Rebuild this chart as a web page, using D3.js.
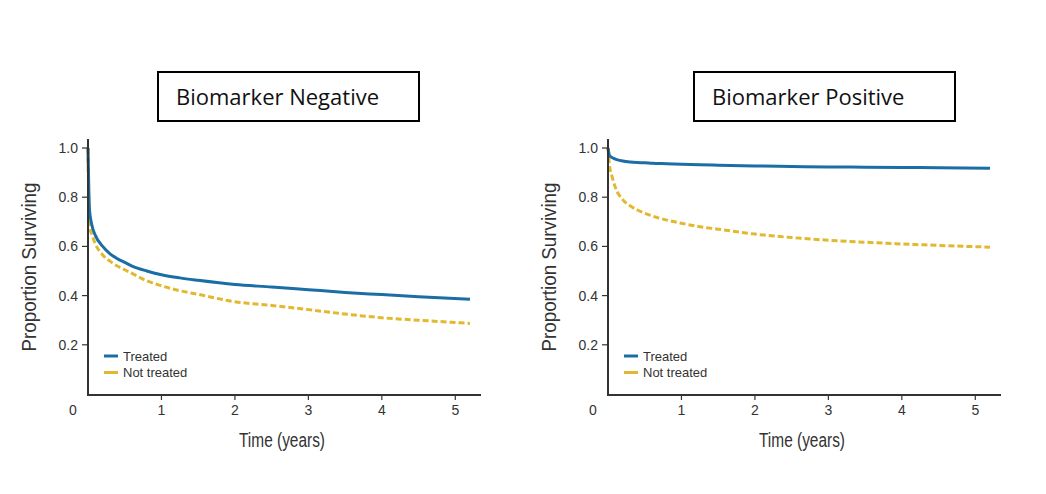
<!DOCTYPE html>
<html>
<head>
    <title>Survival by Biomarker</title>
    <script src="https://d3js.org/d3.v7.min.js"></script>
    <style>
        body, html {
            margin: 0;
            padding: 0;
            background: #fff;
            overflow: hidden;
        }
        .tick-label {
            font-family: "Liberation Sans", Arial, sans-serif;
            font-size: 14px;
            fill: #333;
        }
        .axis-title {
            font-family: "Liberation Sans Narrow", "Liberation Sans", Arial, sans-serif;
            font-size: 20px;
            fill: #333;
        }
        .legend-text {
            font-family: "Liberation Sans", Arial, sans-serif;
            font-size: 13px;
            fill: #333;
        }
        .panel-title {
            font-family: "Open Sans", "Noto Sans", sans-serif;
            font-size: 22px;
            fill: #111;
        }
    </style>
</head>
<body>
    <svg id="chart" width="1046" height="494"></svg>

    <script>
        // time points (years)
        const times = [0, 0.02, 0.05, 0.1, 0.2, 0.3, 0.4, 0.5, 0.6, 0.8, 1.0, 1.25, 1.5, 2.0, 2.5, 3.0, 3.5, 4.0, 4.5, 5.2];

        // Biomarker negative
        const negTreated    = [1.0, 0.75, 0.69, 0.645, 0.60, 0.57, 0.55, 0.535, 0.52, 0.50, 0.485, 0.472, 0.462, 0.445, 0.435, 0.424, 0.413, 0.404, 0.395, 0.385];
        const negNotTreated = [1.0, 0.68, 0.65, 0.61, 0.565, 0.54, 0.52, 0.505, 0.49, 0.46, 0.44, 0.42, 0.405, 0.375, 0.36, 0.343, 0.325, 0.31, 0.30, 0.287];

        // Biomarker positive
        const posTreated    = [1.0, 0.97, 0.962, 0.955, 0.947, 0.943, 0.941, 0.94, 0.938, 0.936, 0.934, 0.932, 0.93, 0.927, 0.925, 0.923, 0.922, 0.921, 0.92, 0.918];
        const posNotTreated = [1.0, 0.93, 0.89, 0.84, 0.79, 0.765, 0.748, 0.735, 0.724, 0.707, 0.694, 0.68, 0.67, 0.65, 0.636, 0.625, 0.617, 0.61, 0.604, 0.597];

        const xTicks = [1, 2, 3, 4, 5];
        const yTicks = [0.2, 0.4, 0.6, 0.8, 1.0];
        const seriesNames = ["Treated", "Not treated"];
        const titles = ["Biomarker Negative", "Biomarker Positive"];

        const blue = "#1a6ea5";
        const gold = "#e2b92e";

        const svg = d3.select("#chart");

        function drawPanel(left, boxX, title, treated, notTreated) {
            const g = svg.append("g");

            const x = d3.scaleLinear().domain([0, 5.35]).range([left, left + 393]);
            const y = d3.scaleLinear().domain([0, 1]).range([394, 148]);

            // title box
            g.append("rect")
                .attr("x", boxX).attr("y", 72)
                .attr("width", 261).attr("height", 49)
                .attr("fill", "none")
                .attr("stroke", "#000")
                .attr("stroke-width", 2);
            g.append("text")
                .attr("class", "panel-title")
                .attr("x", boxX + 18).attr("y", 105)
                .text(title);

            // curves
            const line = d3.line()
                .x(d => x(d[0]))
                .y(d => y(d[1]))
                .curve(d3.curveMonotoneX);

            g.append("path")
                .datum(times.map((t, i) => [t, notTreated[i]]))
                .attr("d", line)
                .attr("fill", "none")
                .attr("stroke", gold)
                .attr("stroke-width", 3)
                .attr("stroke-dasharray", "6,3");

            g.append("path")
                .datum(times.map((t, i) => [t, treated[i]]))
                .attr("d", line)
                .attr("fill", "none")
                .attr("stroke", blue)
                .attr("stroke-width", 3);

            // axes
            const xAxis = g.append("g").attr("transform", "translate(0,395)");
            xAxis.append("line")
                .attr("x1", x(0)).attr("x2", x(5.35))
                .attr("stroke", "#333").attr("stroke-width", 2);
            xAxis.selectAll(".xt")
                .data(xTicks)
                .enter().append("line")
                .attr("x1", d => x(d)).attr("x2", d => x(d))
                .attr("y1", 0).attr("y2", 5)
                .attr("stroke", "#333").attr("stroke-width", 1.2);
            xAxis.selectAll(".xl")
                .data(xTicks)
                .enter().append("text")
                .attr("class", "tick-label")
                .attr("x", d => x(d)).attr("y", 20)
                .attr("text-anchor", "middle")
                .text(d => d);
            xAxis.append("text")
                .attr("class", "tick-label")
                .attr("x", x(0) - 15).attr("y", 20)
                .attr("text-anchor", "middle")
                .text("0");

            const yAxis = g.append("g");
            yAxis.append("line")
                .attr("x1", x(0)).attr("x2", x(0))
                .attr("y1", 139).attr("y2", 396)
                .attr("stroke", "#333").attr("stroke-width", 2);
            yAxis.selectAll(".yt")
                .data(yTicks)
                .enter().append("line")
                .attr("x1", x(0) - 6).attr("x2", x(0))
                .attr("y1", d => y(d)).attr("y2", d => y(d))
                .attr("stroke", "#333").attr("stroke-width", 1.2);
            yAxis.selectAll(".yl")
                .data(yTicks)
                .enter().append("text")
                .attr("class", "tick-label")
                .attr("x", x(0) - 10).attr("y", d => y(d) + 5)
                .attr("text-anchor", "end")
                .text(d => d.toFixed(1));

            // axis titles
            g.append("text")
                .attr("class", "axis-title")
                .attr("x", left + 194).attr("y", 447)
                .attr("text-anchor", "middle")
                .attr("textLength", 86)
                .attr("lengthAdjust", "spacingAndGlyphs")
                .text("Time (years)");
            g.append("text")
                .attr("class", "axis-title")
                .attr("transform", `translate(${left - 52},267) rotate(-90)`)
                .attr("text-anchor", "middle")
                .attr("textLength", 169)
                .attr("lengthAdjust", "spacingAndGlyphs")
                .text("Proportion Surviving");

            // legend
            const legend = g.selectAll(".legend-item")
                .data(seriesNames)
                .enter().append("g")
                .attr("transform", (d, i) => `translate(${left + 16},${356 + i * 16.5})`);
            legend.append("line")
                .attr("x1", 0).attr("x2", 14)
                .attr("stroke", (d, i) => i === 0 ? blue : gold)
                .attr("stroke-width", 3);
            legend.append("text")
                .attr("class", "legend-text")
                .attr("x", 19).attr("y", 4.5)
                .text(d => d);
        }

        drawPanel(88, 158, titles[0], negTreated, negNotTreated);
        drawPanel(608, 694, titles[1], posTreated, posNotTreated);
    </script>
</body>
</html>
